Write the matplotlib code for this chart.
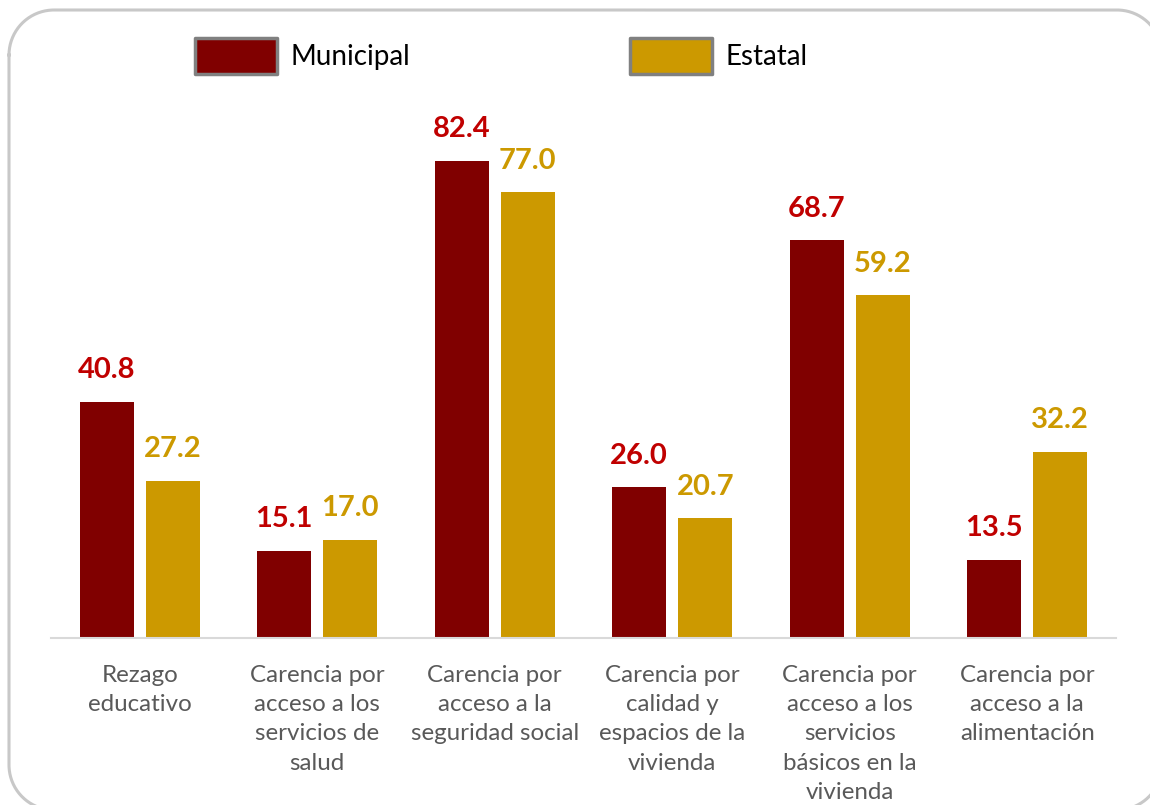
import matplotlib.pyplot as plt
import numpy as np

categories = ['Rezago\neducativo',
              'Carencia por\nacceso a los\nservicios de\nsalud',
              'Carencia por\nacceso a la\nseguridad social',
              'Carencia por\ncalidad y\nespacios de la\nvivienda',
              'Carencia por\nacceso a los\nservicios\nbásicos en la\nvivienda',
              'Carencia por\nacceso a la\nalimentación']
municipal = [40.8, 15.1, 82.4, 26.0, 68.7, 13.5]
estatal = [27.2, 17.0, 77.0, 20.7, 59.2, 32.2]

clrMun = '#800000'
clrEst = '#CC9900'
clrMunLbl = '#C00000'

plt.rcParams['font.family'] = ['Lato', 'DejaVu Sans']

fig = plt.figure(figsize=(11.5, 8.05), dpi=100)

# full-figure overlay in pixel units for the rounded frame (runs off right/bottom)
bg = fig.add_axes([0, 0, 1, 1])
bg.set_xlim(0, 1150)
bg.set_ylim(805, 0)
bg.axis('off')
fx0, fx1, fy0, fy1, rad = 9, 1162, 10, 810, 45
t = np.linspace(0, np.pi/2, 40)
frameX = np.concatenate([fx0 + rad - rad*np.cos(t), fx1 - rad + rad*np.sin(t),
                         fx1 - rad + rad*np.cos(t), fx0 + rad - rad*np.sin(t), [fx0]])
frameY = np.concatenate([fy0 + rad - rad*np.sin(t), fy0 + rad - rad*np.cos(t),
                         fy1 - rad + rad*np.sin(t), fy1 - rad + rad*np.cos(t), [fy0 + rad]])
bg.plot(frameX, frameY, color='#C8C8C8', lw=2.2, clip_on=True)

ax = fig.add_axes([51/1150, 167/805, 1065/1150, 521/805])
ax.patch.set_alpha(0)

x = np.arange(len(categories))
off = 0.186
w = 0.304
b1 = ax.bar(x - off, municipal, w, color=clrMun, label='Municipal')
b2 = ax.bar(x + off, estatal, w, color=clrEst, label='Estatal')

for bar, v in zip(b1, municipal):
    ax.annotate('{0:.1f}'.format(v), (bar.get_x() + bar.get_width()/2, v),
                xytext=(0, 17), textcoords='offset points', ha='center', va='baseline',
                fontsize=21, fontweight='bold', color=clrMunLbl)
for bar, v in zip(b2, estatal):
    ax.annotate('{0:.1f}'.format(v), (bar.get_x() + bar.get_width()/2, v),
                xytext=(0, 17), textcoords='offset points', ha='center', va='baseline',
                fontsize=21, fontweight='bold', color=clrEst)

ax.set_xlim(-0.5, len(categories) - 0.5)
ax.set_ylim(0, 90)
ax.set_yticks([])
ax.set_xticks(x)
ax.set_xticklabels(categories, fontsize=17.4, color='#595959', linespacing=1.48, va='top')
ax.tick_params(axis='x', length=0, pad=19.5)
for s in ['top', 'right', 'left']:
    ax.spines[s].set_visible(False)
ax.spines['bottom'].set_color('#D9D9D9')
ax.spines['bottom'].set_linewidth(1.5)

leg = ax.legend(loc='center left', bbox_to_anchor=(195/1150, (805-56)/805), bbox_transform=fig.transFigure,
                ncol=2, frameon=False, fontsize=20, handlelength=2.95, handleheight=1.6,
                columnspacing=7.9, handletextpad=0.5, borderpad=0, borderaxespad=0)
for h in leg.legend_handles:
    h.set_edgecolor('#808080')
    h.set_linewidth(2.5)
    h.set_joinstyle('round')

fig.savefig('out.png', dpi=100)
